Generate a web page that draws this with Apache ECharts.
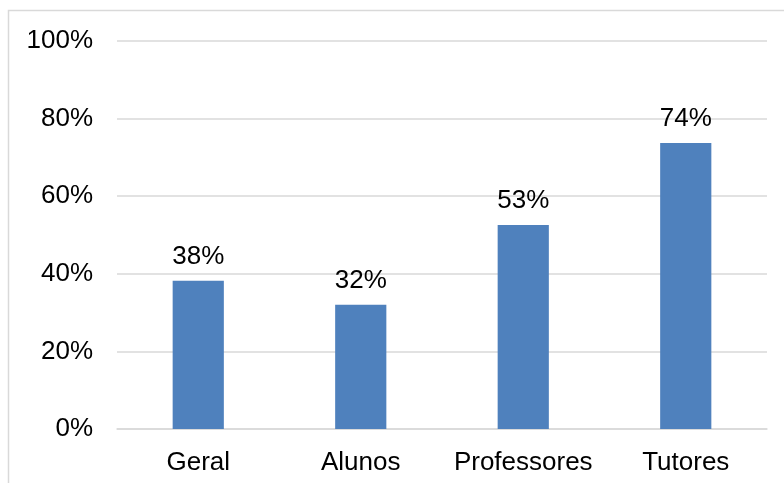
<!DOCTYPE html>
<html>
<head>
<meta charset="utf-8">
<script src="https://cdn.jsdelivr.net/npm/echarts@6/dist/echarts.min.js"></script>
<style>
html,body{margin:0;padding:0;background:#fff;}
#chart{width:784px;height:483px;}
</style>
</head>
<body>
<div id="chart"></div>
<script>
var categories = ['Geral', 'Alunos', 'Professores', 'Tutores'];
var values = [38.2, 32.0, 52.6, 73.7];
var valueLabels = ['38%', '32%', '53%', '74%'];
var yTicks = [0, 20, 40, 60, 80, 100];

var chart = echarts.init(document.getElementById('chart'), null, {renderer: 'canvas'});
var font = 'Liberation Sans, Arial, sans-serif';
chart.setOption({
  animation: false,
  graphic: [{
    type: 'polyline',
    shape: {points: [[8.5, 490], [8.5, 10.5], [790, 10.5]]},
    style: {stroke: '#d9d9d9', fill: null, lineWidth: 1.5}
  }],
  grid: {left: 117, right: 17, top: 41, bottom: 54},
  xAxis: {
    type: 'category',
    data: categories,
    axisLine: {show: true, lineStyle: {color: '#d9d9d9', width: 1.5}},
    axisTick: {show: false},
    axisLabel: {color: '#000', fontFamily: font, fontSize: 26, margin: 21, interval: 0, hideOverlap: false}
  },
  yAxis: {
    type: 'value',
    min: 0, max: 100, interval: 20,
    axisLine: {show: false},
    axisTick: {show: false},
    splitLine: {lineStyle: {color: '#d9d9d9', width: 1.5}},
    axisLabel: {color: '#000', fontFamily: font, fontSize: 26, margin: 24,
      formatter: function (v) { return yTicks.indexOf(v) >= 0 ? v + '%' : ''; }}
  },
  series: [{
    type: 'bar',
    data: values,
    barWidth: '31.5%',
    itemStyle: {color: '#4f81bd'},
    label: {
      show: true, position: 'top', distance: 11,
      color: '#000', fontFamily: font, fontSize: 26,
      formatter: function (p) { return valueLabels[p.dataIndex]; }
    }
  }]
});
</script>
</body>
</html>
